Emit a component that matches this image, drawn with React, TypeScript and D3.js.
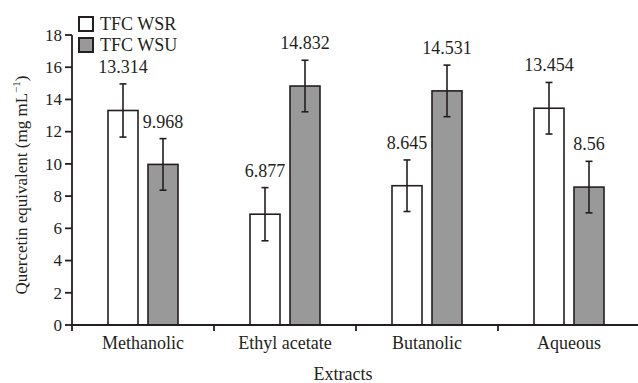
import * as d3 from 'd3';

const categories = ['Methanolic', 'Ethyl acetate', 'Butanolic', 'Aqueous'];
const seriesNames = ['TFC WSR', 'TFC WSU'];
const wsrValues = [13.314, 6.877, 8.645, 13.454];
const wsuValues = [9.968, 14.832, 14.531, 8.56];
const wsrErrors = [1.65, 1.65, 1.6, 1.6];
const wsuErrors = [1.6, 1.6, 1.6, 1.6];
const yTicks = [0, 2, 4, 6, 8, 10, 12, 14, 16, 18];

const fills = ['#ffffff', '#999999'];
const ink = '#231f20';
const font = '"Liberation Serif", "DejaVu Serif", serif';

export default function App() {
  const width = 638;
  const height = 383;
  const left = 72;
  const right = 640;
  const top = 35;
  const bottom = 325;

  const x = d3.scaleBand<string>().domain(categories).range([left, right]).padding(0);
  const inner = d3.scaleBand<string>().domain(seriesNames).range([36, 106]).paddingInner(0.25);
  const y = d3.scaleLinear().domain([0, 18]).range([bottom, top]);

  const series = [
    { name: seriesNames[0], values: wsrValues, errors: wsrErrors, fill: fills[0] },
    { name: seriesNames[1], values: wsuValues, errors: wsuErrors, fill: fills[1] },
  ];

  return (
    <svg width={width} height={height} style={{ position: 'absolute', left: 0, top: 0 }}
      fontFamily={font} fill={ink}>
      <rect width={width} height={height} fill="#fff" />

      {/* bars, error bars, value labels */}
      {series.map(s => (
        <g key={s.name}>
          {categories.map((c, i) => {
            const bx = (x(c) ?? 0) + (inner(s.name) ?? 0);
            const bw = inner.bandwidth();
            const cx = bx + bw / 2;
            const v = s.values[i];
            const e = s.errors[i];
            return (
              <g key={c}>
                <rect x={bx} y={y(v)} width={bw} height={y(0) - y(v)}
                  fill={s.fill} stroke={ink} strokeWidth={1.6} />
                <line x1={cx} x2={cx} y1={y(v + e)} y2={y(v - e)} stroke={ink} strokeWidth={1.6} />
                <line x1={cx - 3.5} x2={cx + 3.5} y1={y(v + e)} y2={y(v + e)} stroke={ink} strokeWidth={1.6} />
                <line x1={cx - 3.5} x2={cx + 3.5} y1={y(v - e)} y2={y(v - e)} stroke={ink} strokeWidth={1.6} />
                <text x={cx} y={y(v + e) - 11} textAnchor="middle" fontSize={18}>{v}</text>
              </g>
            );
          })}
        </g>
      ))}

      {/* y axis */}
      <line x1={left} x2={left} y1={top} y2={bottom + 6} stroke={ink} strokeWidth={1.8} />
      {yTicks.map(t => (
        <g key={t}>
          <line x1={left - 7} x2={left} y1={y(t)} y2={y(t)} stroke={ink} strokeWidth={1.8} />
          <text x={left - 10} y={y(t)} dy="0.34em" textAnchor="end" fontSize={17}>{t}</text>
        </g>
      ))}

      {/* x axis */}
      <line x1={left} x2={right} y1={bottom} y2={bottom} stroke={ink} strokeWidth={1.8} />
      {categories.slice(1).map(c => (
        <line key={c} x1={x(c)} x2={x(c)} y1={bottom} y2={bottom + 6} stroke={ink} strokeWidth={1.8} />
      ))}
      {categories.map(c => (
        <text key={c} x={(x(c) ?? 0) + x.bandwidth() / 2} y={bottom + 24} textAnchor="middle" fontSize={18}>{c}</text>
      ))}

      <text x={343} y={380} textAnchor="middle" fontSize={18}>Extracts</text>
      <text transform={`translate(27,${(top + bottom) / 2 + 5}) rotate(-90)`} textAnchor="middle" fontSize={17}>
        Quercetin equivalent (mg mL<tspan dy={-7} fontSize={11}>−1</tspan><tspan dy={7}>)</tspan>
      </text>

      {/* legend */}
      {series.map((s, i) => (
        <g key={s.name} transform={`translate(78,${16 + i * 21})`}>
          <rect x={1} y={1} width={14} height={14} fill={s.fill} stroke={ink} strokeWidth={2} />
          <text x={22} y={14} fontSize={18}>{s.name}</text>
        </g>
      ))}
    </svg>
  );
}
